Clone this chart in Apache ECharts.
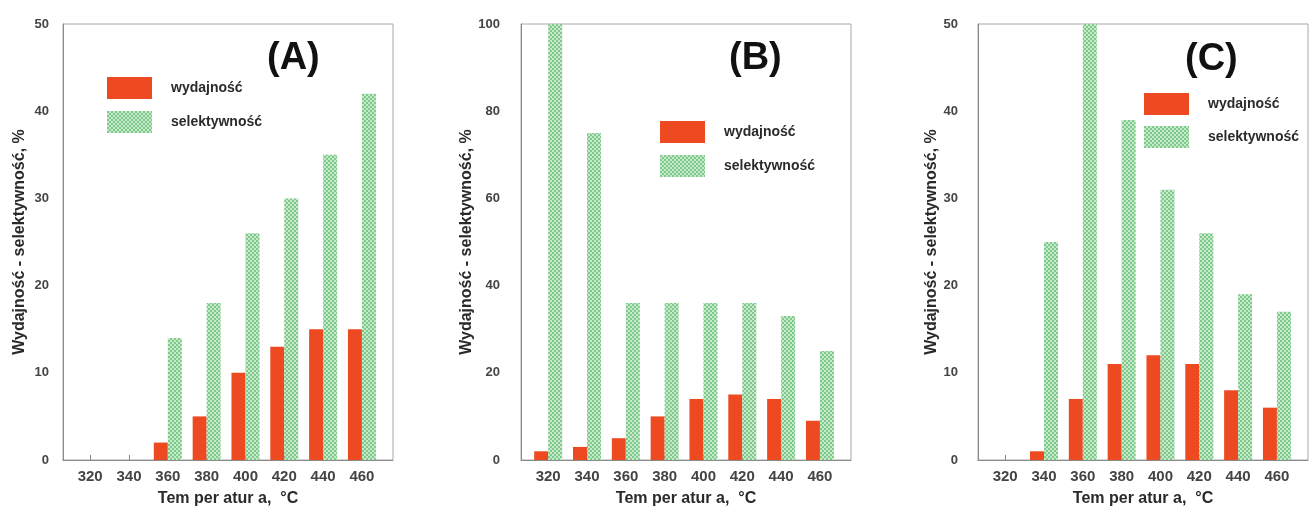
<!DOCTYPE html>
<html>
<head>
<meta charset="utf-8">
<script src="https://cdn.jsdelivr.net/npm/echarts@6/dist/echarts.min.js"></script>
<style>
html,body{margin:0;padding:0;background:#fff;}
#chart{width:1312px;height:513px;}
</style>
</head>
<body>
<div id="chart"></div>
<script>
// ---- data ----
const temperatures = [320, 340, 360, 380, 400, 420, 440, 460];
const seriesNames = ['wydajność', 'selektywność'];
const panelLabels = ['(A)', '(B)', '(C)'];
const yMaxA = 50, yMaxB = 100, yMaxC = 50;
const yStepA = 10, yStepB = 20, yStepC = 10;
const yieldA = [0, 0, 2, 5, 10, 13, 15, 15];
const selectA = [0, 0, 14, 18, 26, 30, 35, 42];
const yieldB = [2, 3, 5, 10, 14, 15, 14, 9];
const selectB = [100, 75, 36, 36, 36, 36, 33, 25];
const yieldC = [0, 1, 7, 11, 12, 11, 8, 6];
const selectC = [0, 25, 50, 39, 31, 26, 19, 17];
const xAxisTitle = 'Tem per atur a,  °C';
const yAxisTitle = 'Wydajność - selektywność, %';

// ---- styles ----
const RED = '#EE4A22';
function makePattern() {
  const c = document.createElement('canvas');
  c.width = 4; c.height = 4;
  const g = c.getContext('2d');
  g.fillStyle = '#c6e9ca';
  g.fillRect(0, 0, 4, 4);
  g.fillStyle = '#7fc98d';
  g.fillRect(0, 0, 2, 2);
  g.fillRect(2, 2, 2, 2);
  return c;
}
const GREEN = { image: makePattern(), repeat: 'repeat' };
const FONT = 'Liberation Sans, Arial, sans-serif';

const panels = [
  { yieldV: yieldA, selV: selectA, max: yMaxA, step: yStepA, left: 63, labelMargin: 14, nameGap: 35,
    legend: { left: 107, top: 77, gap: 12 }, label: { x: 295, y: 62 } },
  { yieldV: yieldB, selV: selectB, max: yMaxB, step: yStepB, left: 521, labelMargin: 21, nameGap: 33,
    legend: { left: 660, top: 121, gap: 12 }, label: { x: 757, y: 62 } },
  { yieldV: yieldC, selV: selectC, max: yMaxC, step: yStepC, left: 978, labelMargin: 20, nameGap: 35,
    legend: { left: 1144, top: 93, gap: 11 }, label: { x: 1213, y: 63 } }
];

const grid = [], xAxis = [], yAxis = [], series = [], legend = [], graphic = [];
panels.forEach((p, i) => {
  grid.push({ left: p.left, top: 24, width: 330, height: 436, show: true,
    borderColor: '#a8a8a8', borderWidth: 1, backgroundColor: 'transparent' });
  xAxis.push({
    type: 'value', gridIndex: i, min: 306, max: 476,
    splitLine: { show: false },
    axisLine: { show: true, lineStyle: { color: '#8a8a8a', width: 1 } },
    axisTick: { show: true, inside: true, length: 5, customValues: temperatures,
      lineStyle: { color: '#8a8a8a' } },
    axisLabel: { customValues: temperatures, margin: 9, color: '#444',
      fontFamily: FONT, fontWeight: 'bold', fontSize: 15 },
    name: xAxisTitle, nameLocation: 'middle', nameGap: 31,
    nameTextStyle: { color: '#2a2a2a', fontFamily: FONT, fontWeight: 'bold', fontSize: 16 }
  });
  yAxis.push({
    type: 'value', gridIndex: i, min: 0, max: p.max, interval: p.step,
    splitLine: { show: false },
    axisLine: { show: true, lineStyle: { color: '#8a8a8a', width: 1 } },
    axisTick: { show: false },
    axisLabel: { margin: p.labelMargin, color: '#444',
      fontFamily: FONT, fontWeight: 'bold', fontSize: 13 },
    name: yAxisTitle, nameLocation: 'middle', nameGap: p.nameGap, nameRotate: 90,
    nameTextStyle: { color: '#2a2a2a', fontFamily: FONT, fontWeight: 'bold', fontSize: 16 }
  });
  series.push({
    name: seriesNames[0], type: 'bar', xAxisIndex: i, yAxisIndex: i,
    barWidth: 14, barGap: '0%',
    itemStyle: { color: RED },
    data: temperatures.map((t, k) => [t, p.yieldV[k]])
  });
  series.push({
    name: seriesNames[1], type: 'bar', xAxisIndex: i, yAxisIndex: i,
    barWidth: 14, barGap: '0%',
    itemStyle: { color: GREEN },
    data: temperatures.map((t, k) => [t, p.selV[k]])
  });
  legend.push({
    data: seriesNames, orient: 'vertical', left: p.legend.left, top: p.legend.top,
    itemWidth: 45, itemHeight: 22, itemGap: p.legend.gap, icon: 'rect',
    padding: 0,
    textStyle: { color: '#2a2a2a', fontFamily: FONT, fontWeight: 'bold', fontSize: 14,
      padding: [6, 0, 0, 14] }
  });
  graphic.push({
    type: 'text', left: p.label.x - 28, top: p.label.y - 22,
    style: { text: panelLabels[i], fill: '#111', font: 'bold 38px ' + FONT }
  });
});

const chart = echarts.init(document.getElementById('chart'), null, { renderer: 'canvas' });
chart.setOption({
  animation: false,
  backgroundColor: '#ffffff',
  grid, xAxis, yAxis, series, legend, graphic
});
</script>
</body>
</html>
